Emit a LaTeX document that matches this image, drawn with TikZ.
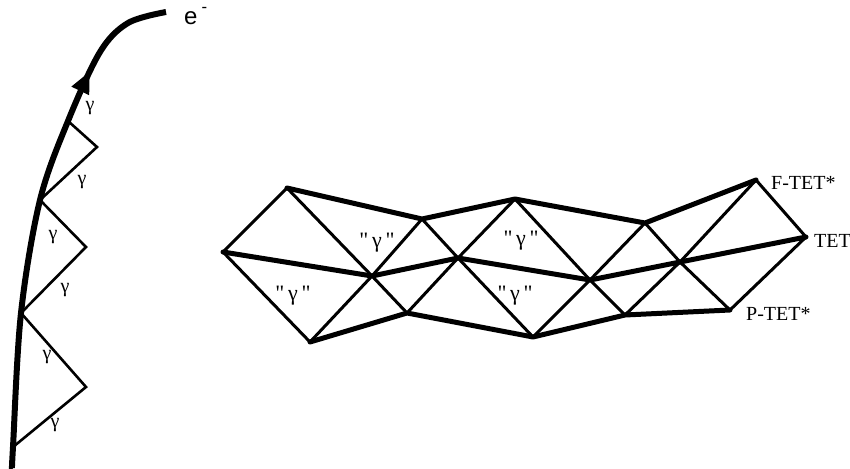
\documentclass[tikz,border=0pt]{standalone}
\usepackage{fontspec}
\setmainfont{Liberation Serif}
\setsansfont{Liberation Sans}
\newfontfamily\quotefont{Liberation Serif}[Ligatures=TeXOff]
\usetikzlibrary{arrows.meta,decorations.markings}
\definecolor{plateink}{HTML}{000000}

\begin{document}
\begin{tikzpicture}[
  x=1pt, y=-1pt,
  every node/.style={plateink, inner sep=0pt},
  track/.style={plateink, line width=6pt,
    postaction={decorate},
    decoration={markings,
      mark=at position 0.8 with {\arrow{Triangle[length=22pt,width=18pt]}}}},
  zig/.style={plateink, line width=2.6pt},
  bond/.style={plateink, line width=5pt, line cap=round, line join=round},
  rung/.style={plateink, line width=3pt, line cap=round},
  glab/.style={font=\fontsize{20}{22}\selectfont},
  qlab/.style={font=\quotefont\fontsize{22}{24}\selectfont},
  tlab/.style={font=\fontsize{20}{22}\selectfont, anchor=west}
]
  \useasboundingbox (0,0) rectangle (850,468);

  %% ---- electron track ------------------------------------------------
  \coordinate (c1) at (68,121);
  \coordinate (c2) at (40,200);
  \coordinate (c3) at (21,313);
  \coordinate (c4) at (13,447);
  \coordinate (eEnd) at (166,12);
  \draw[track] plot[smooth, tension=0.55] coordinates
    {(12,468) (c4) (c3) (c2) (c1) (100,52) (128,23) (eEnd)};
  \node[anchor=west, font=\sffamily\fontsize{24}{26}\selectfont] (eLab)
    at (184,16) {e\,\raisebox{3pt}{\textsuperscript{-}}};

  %% ---- emitted photons -------------------------------------------------
  \coordinate (o1) at (97,147);
  \coordinate (o2) at (86,247);
  \coordinate (o3) at (86,387);
  \draw[zig] (c1) -- (o1) -- (c2) -- (o2) -- (c3) -- (o3) -- (c4);
  \node[glab] (g1) at (90,108) {γ};
  \node[glab] (g2) at (82,182) {γ};
  \node[glab] (g3) at (53,237) {γ};
  \node[glab] (g4) at (65,290) {γ};
  \node[glab] (g5) at (47,357) {γ};
  \node[glab] (g6) at (55,425) {γ};

  %% ---- lattice, three rows ---------------------------------------------
  \coordinate (a)  at (223,252);
  \coordinate (t1) at (287,188);
  \coordinate (t2) at (422,219);
  \coordinate (t3) at (515,199);
  \coordinate (t4) at (645,223);
  \coordinate (t5) at (756,180);
  \coordinate (m1) at (372,276);
  \coordinate (m2) at (458,258);
  \coordinate (m3) at (590,280);
  \coordinate (m4) at (680,262);
  \coordinate (r)  at (806,237);
  \coordinate (b1) at (310,342);
  \coordinate (b2) at (407,313);
  \coordinate (b3) at (533,337);
  \coordinate (b4) at (625,315);
  \coordinate (b5) at (730,310);

  \draw[rung] (a) -- (t1);
  \draw[rung] (a) -- (b1);
  \draw[rung] (t1) -- (m1) -- (b2);
  \draw[rung] (b1) -- (m1) -- (t2);
  \draw[rung] (t2) -- (m2) -- (b3);
  \draw[rung] (b2) -- (m2) -- (t3);
  \draw[rung] (t3) -- (m3) -- (b4);
  \draw[rung] (b3) -- (m3) -- (t4);
  \draw[rung] (t4) -- (m4) -- (b5);
  \draw[rung] (b4) -- (m4) -- (t5);
  \draw[rung] (t5) -- (r) -- (b5);

  \draw[bond] (t1) -- (t2) -- (t3) -- (t4) -- (t5);
  \draw[bond] (a) -- (m1) -- (m2) -- (m3) -- (m4) -- (r);
  \draw[bond] (b1) -- (b2) -- (b3) -- (b4) -- (b5);

  \node[qlab] (q1) at (377,243) {"\,γ\,"};
  \node[qlab] (q2) at (293,296) {"\,γ\,"};
  \node[qlab] (q3) at (521,241) {"\,γ\,"};
  \node[qlab] (q4) at (515,296) {"\,γ\,"};

  \node[tlab] (fLab) at (771,183) {F-TET*};
  \node[tlab] (tLab) at (814,241) {TET};
  \node[tlab] (pLab) at (746,314) {P-TET*};

\end{tikzpicture}
\end{document}
